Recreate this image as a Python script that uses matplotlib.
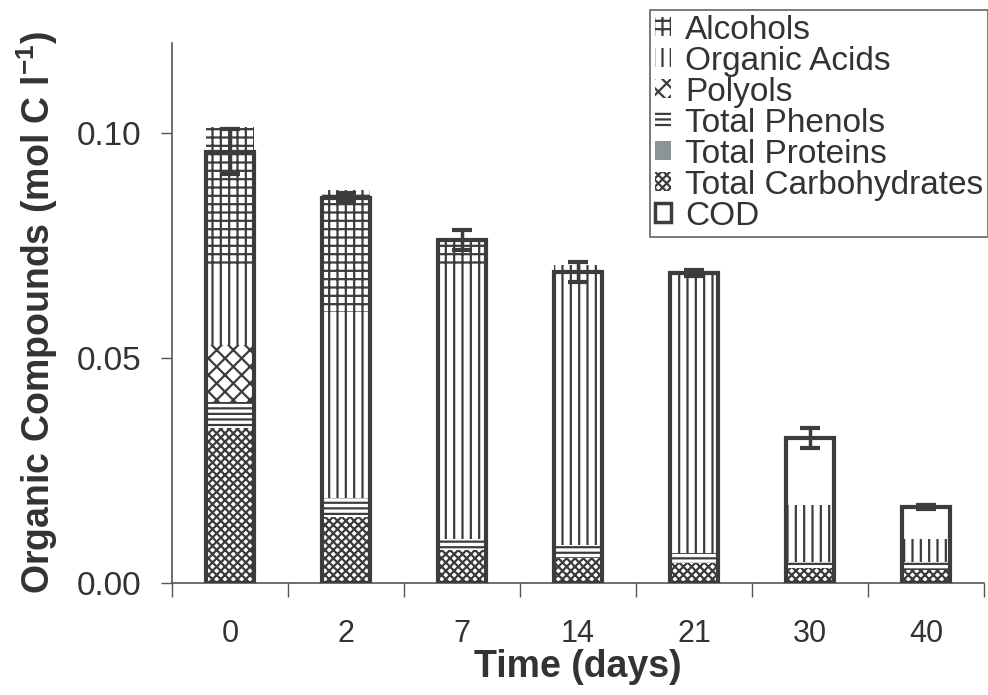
import numpy as np
import matplotlib
matplotlib.use("Agg")
import matplotlib.pyplot as plt
from matplotlib.patches import Patch

# data (mol C / l)
days      = ["0", "2", "7", "14", "21", "30", "40"]
carbs     = [0.0344, 0.0147, 0.0073, 0.0056, 0.0044, 0.0033, 0.0029]
proteins  = [0.0, 0.0, 0.0, 0.0, 0.0, 0.0, 0.0]
phenols   = [0.0058, 0.0042, 0.0025, 0.0028, 0.0023, 0.0014, 0.0018]
polyols   = [0.0127, 0.0, 0.0, 0.0, 0.0, 0.0, 0.0]
acids     = [0.0171, 0.0413, 0.0609, 0.0623, 0.0622, 0.0126, 0.0051]
alcohols  = [0.0313, 0.0271, 0.0055, 0.0, 0.0, 0.0, 0.0]
cod       = [0.0958, 0.0856, 0.0762, 0.0692, 0.0689, 0.0322, 0.0169]
cod_err   = [0.0050, 0.0010, 0.0022, 0.0022, 0.0007, 0.0022, 0.0005]

dark = "#3c3c3c"
txt  = "#333333"
plt.rcParams["font.family"] = ["Liberation Sans", "DejaVu Sans"]
plt.rcParams["mathtext.fontset"] = "custom"
plt.rcParams["mathtext.rm"] = "Liberation Sans:bold"
plt.rcParams["mathtext.bf"] = "Liberation Sans:bold"
plt.rcParams["hatch.linewidth"] = 1.6

fig = plt.figure(figsize=(9.88, 6.95), dpi=100)
ax = fig.add_axes([0.174, 0.161, 0.822, 0.777])

x = np.arange(len(days))
w = 0.42

layers = [
  ("Total Carbohydrates", carbs,    "white",   "xxxx"),
  ("Total Proteins",      proteins, "#8a9696", None),
  ("Total Phenols",       phenols,  "white",   "---"),
  ("Polyols",             polyols,  "white",   "xx"),
  ("Organic Acids",       acids,    "white",   "||"),
  ("Alcohols",            alcohols, "white",   "++"),
]

bottom = np.zeros(len(days))
for name, vals, fc, hatch in layers:
  vals = np.array(vals)
  ax.bar(x, vals, w, bottom=bottom, color=fc, edgecolor=dark, linewidth=0, hatch=hatch, zorder=2)
  bottom += vals

ax.bar(x, cod, w, facecolor="none", edgecolor=dark, linewidth=3, zorder=3)
ax.errorbar(x, cod, yerr=cod_err, fmt="none", ecolor=dark, elinewidth=2.5, capsize=7, capthick=3, zorder=4)

ax.set_xlim(-0.5, len(days) - 0.5)
ax.set_ylim(0, 0.12)
ax.set_yticks([0.0, 0.05, 0.10])
ax.set_yticklabels(["0.00", "0.05", "0.10"])
ax.set_xticks(x)
ax.set_xticklabels(days)
ax.set_xticks(np.arange(-0.5, len(days)), minor=True)
ax.tick_params(axis="x", which="major", length=0, pad=26, labelsize=22, colors=txt)
ax.tick_params(axis="x", which="minor", length=10, width=1, color="#555555", direction="out")
ax.tick_params(axis="y", length=8, width=1, color="#555555", labelsize=24, labelcolor=txt, pad=14)
for s in ["top", "right"]:
  ax.spines[s].set_visible(False)
for s in ["left", "bottom"]:
  ax.spines[s].set_color("#555555")
  ax.spines[s].set_linewidth(1.2)

ax.set_xlabel("Time (days)", fontsize=27, fontweight="bold", color=txt, labelpad=0)
ax.set_ylabel(r"Organic Compounds (mol C l$^{-1}$)", fontsize=27, fontweight="bold", color=txt, labelpad=12)

handles = [
  Patch(facecolor="white", edgecolor=dark, linewidth=0, hatch="++", label="Alcohols"),
  Patch(facecolor="white", edgecolor=dark, linewidth=0, hatch="||", label="Organic Acids"),
  Patch(facecolor="white", edgecolor=dark, linewidth=0, hatch="xx", label="Polyols"),
  Patch(facecolor="white", edgecolor=dark, linewidth=0, hatch="---", label="Total Phenols"),
  Patch(facecolor="#8a9696", edgecolor="#8a9696", linewidth=0, label="Total Proteins"),
  Patch(facecolor="white", edgecolor=dark, linewidth=0, hatch="xxxx", label="Total Carbohydrates"),
  Patch(facecolor="white", edgecolor=dark, linewidth=2.5, label="COD"),
]
leg = fig.legend(handles=handles, loc="upper right", bbox_to_anchor=(1.0, 0.986), fontsize=24,
                 frameon=True, fancybox=False, handlelength=0.5, handleheight=0.5,
                 handletextpad=0.4, labelspacing=0.0, borderpad=0.15, borderaxespad=0.0)
leg.get_frame().set_edgecolor(dark)
leg.get_frame().set_linewidth(1.2)
for t in leg.get_texts():
  t.set_color(txt)

fig.savefig("out.png", dpi=100)
